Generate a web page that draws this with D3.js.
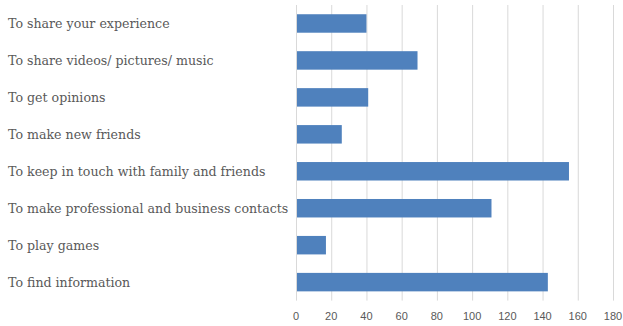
<!DOCTYPE html>
<html lang="en">
<head>
<meta charset="UTF-8">
<title>Reasons for using social media</title>
<script src="https://cdn.jsdelivr.net/npm/d3@7/dist/d3.min.js"></script>
<style>
  body { margin: 0; background: #fff; }
  .cat-label { font-family: "DejaVu Serif", serif; font-size: 12.6px; fill: #595959; }
  .tick-label { font-family: "Liberation Sans", Arial, sans-serif; font-size: 11px; fill: #595959; }
</style>
</head>
<body>
<script>
// data, top to bottom
var categories = [
  "To share your experience",
  "To share videos/ pictures/ music",
  "To get opinions",
  "To make new friends",
  "To keep in touch with family and friends",
  "To make professional and business contacts",
  "To play games",
  "To find information"
];
var values = [40, 69, 41, 26, 155, 111, 17, 143];
var ticks = [0, 20, 40, 60, 80, 100, 120, 140, 160, 180];

var width = 623, height = 326;

var svg = d3.select("body").append("svg")
  .attr("width", width)
  .attr("height", height);

var x = d3.scaleLinear().domain([0, 180]).range([296, 613]);
var y = d3.scaleBand().domain(categories).range([5, 300.6]).paddingInner(0.5).paddingOuter(0.25);

// gridlines
svg.selectAll("line.grid")
  .data(ticks.slice(1))
  .enter().append("line")
  .attr("class", "grid")
  .attr("x1", function(d){ return x(d) + 0.5 })
  .attr("x2", function(d){ return x(d) + 0.5 })
  .attr("y1", 5)
  .attr("y2", 300.6)
  .attr("stroke", "#d9d9d9")
  .attr("stroke-width", 1);

// bars
svg.selectAll("rect.bar")
  .data(values)
  .enter().append("rect")
  .attr("class", "bar")
  .attr("x", x(0))
  .attr("y", function(d, i){ return y(categories[i]) })
  .attr("width", function(d){ return x(d) - x(0) })
  .attr("height", y.bandwidth())
  .attr("fill", "#4f81bd");

// axis line at zero
svg.append("line")
  .attr("x1", x(0) + 0.5).attr("x2", x(0) + 0.5)
  .attr("y1", 5).attr("y2", 300.6)
  .attr("stroke", "#d9d9d9")
  .attr("stroke-width", 1);

// tick labels
svg.selectAll("text.tick-label")
  .data(ticks)
  .enter().append("text")
  .attr("class", "tick-label")
  .attr("x", function(d){ return x(d) })
  .attr("y", 320)
  .attr("text-anchor", "middle")
  .text(function(d){ return d });

// category labels
svg.selectAll("text.cat-label")
  .data(categories)
  .enter().append("text")
  .attr("class", "cat-label")
  .attr("x", 8)
  .attr("y", function(d){ return y(d) + y.bandwidth() / 2 })
  .attr("dy", "0.35em")
  .text(function(d){ return d });
</script>
</body>
</html>
